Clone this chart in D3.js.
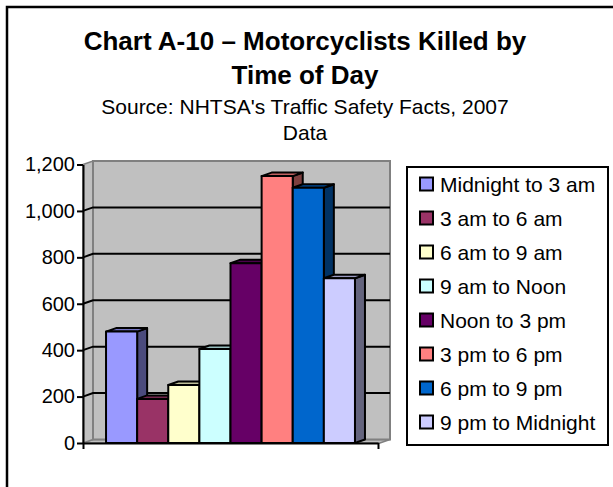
<!DOCTYPE html>
<html>
<head>
<meta charset="utf-8">
<script src="https://cdn.jsdelivr.net/npm/d3@7"></script>
<style>
  body { margin: 0; background: #fff; }
  text { font-family: "Liberation Sans", Arial, sans-serif; fill: #000; }
</style>
</head>
<body>
<div id="chart"></div>
<script>
// data
const seriesNames = ['Midnight to 3 am', '3 am to 6 am', '6 am to 9 am', '9 am to Noon',
    'Noon to 3 pm', '3 pm to 6 pm', '6 pm to 9 pm', '9 pm to Midnight'];
const killed = [480, 190, 250, 405, 775, 1150, 1100, 710];
const yTicks = [0, 200, 400, 600, 800, 1000, 1200];
const titleLines = ['Chart A-10 \u2013 Motorcyclists Killed by', 'Time of Day'];
const subtitleLines = ["Source: NHTSA's Traffic Safety Facts, 2007", 'Data'];

// excel-ish fills
const colors = ['#9999FF', '#993366', '#FFFFCC', '#CCFFFF', '#660066', '#FF8080', '#0066CC', '#CCCCFF'];

const svgwidth = 613;
const svgheight = 487;

// plot area (front plane) + 3d depth offset
const plot = { left: 83, right: 378, top: 164.5, bottom: 443 };
const depth = { dx: 10, dy: -3.5 };

const svg = d3.select('#chart').append('svg')
    .attr('width', svgwidth).attr('height', svgheight);

svg.append('rect')
    .attr('width', svgwidth).attr('height', svgheight)
    .attr('fill', '#fff');

// outer frame (runs off right and bottom)
svg.append('rect')
    .attr('x', 7).attr('y', 7)
    .attr('width', 640).attr('height', 520)
    .attr('fill', 'none').attr('stroke', '#000').attr('stroke-width', 2.5);

////////// titles //////////
const titleGroup = svg.append('g').attr('text-anchor', 'middle');
titleGroup.selectAll('.title').data(titleLines).enter()
    .append('text')
    .attr('class', 'title')
    .attr('x', 305)
    .attr('y', (d, i) => 50 + i * 34)
    .attr('font-size', 26)
    .attr('font-weight', 'bold')
    .text(d => d);
titleGroup.selectAll('.sub').data(subtitleLines).enter()
    .append('text')
    .attr('class', 'sub')
    .attr('x', 305)
    .attr('y', (d, i) => 114 + i * 26)
    .attr('font-size', 21)
    .text(d => d);

////////// scales //////////
const yScale = d3.scaleLinear()
    .domain([0, 1200])
    .range([plot.bottom, plot.top]);

const xScale = d3.scaleBand()
    .domain(seriesNames)
    .range([plot.left, plot.right])
    .paddingInner(0)
    .paddingOuter(0.74);

const xEnds = d3.scaleLinear().domain([0, 1]).range([plot.left, plot.right]);

////////// walls //////////
const wallGroup = svg.append('g');
const bx = plot.left + depth.dx;
const bxr = plot.right + depth.dx + 2;
const topY = yScale(1200) + depth.dy;
const floorY = plot.bottom + depth.dy;

// floor
wallGroup.append('polygon')
    .attr('points', [[plot.left, plot.bottom], [bx, floorY], [bxr, floorY], [plot.right + 2, plot.bottom]].join(' '))
    .attr('fill', '#c0c0c0').attr('stroke', '#808080').attr('stroke-width', 1.5);
// side wall
wallGroup.append('polygon')
    .attr('points', [[plot.left, yScale(1200)], [bx, topY], [bx, floorY], [plot.left, plot.bottom]].join(' '))
    .attr('fill', '#c0c0c0').attr('stroke', '#808080').attr('stroke-width', 1.5);
// back wall
wallGroup.append('rect')
    .attr('x', bx).attr('y', topY)
    .attr('width', bxr - bx).attr('height', floorY - topY)
    .attr('fill', '#c0c0c0').attr('stroke', '#808080').attr('stroke-width', 2);

// gridlines on back + side wall
const grid = wallGroup.selectAll('.grid').data(yTicks.filter(t => t > 0 && t < 1200)).enter()
    .append('polyline')
    .attr('class', 'grid')
    .attr('points', d => [[plot.left, yScale(d)], [bx, yScale(d) + depth.dy], [bxr, yScale(d) + depth.dy]].join(' '))
    .attr('fill', 'none').attr('stroke', '#000').attr('stroke-width', 2);

////////// bars //////////
const barData = seriesNames.map((name, i) => ({ name: name, value: killed[i], color: colors[i] }));

const bars = svg.selectAll('.bar').data(barData).enter()
    .append('g')
    .attr('class', 'bar')
    .attr('stroke', '#000')
    .attr('stroke-width', 2)
    .attr('stroke-linejoin', 'round');

const w = xScale.bandwidth();

// side face
bars.append('polygon')
    .attr('points', d => {
        const x1 = xScale(d.name) + w, y0 = yScale(d.value), yb = yScale(0);
        return [[x1, yb], [x1 + depth.dx, yb + depth.dy], [x1 + depth.dx, y0 + depth.dy], [x1, y0]].join(' ');
    })
    .attr('fill', d => d3.rgb(d.color).darker(2).formatHex());

// top face
bars.append('polygon')
    .attr('points', d => {
        const x0 = xScale(d.name), y0 = yScale(d.value);
        return [[x0, y0], [x0 + depth.dx, y0 + depth.dy], [x0 + w + depth.dx, y0 + depth.dy], [x0 + w, y0]].join(' ');
    })
    .attr('fill', d => d3.rgb(d.color).darker(0.8).formatHex());

// front face
bars.append('rect')
    .attr('x', d => xScale(d.name))
    .attr('y', d => yScale(d.value))
    .attr('width', w)
    .attr('height', d => yScale(0) - yScale(d.value))
    .attr('fill', d => d.color);

////////// axes //////////
const yAxis = d3.axisLeft(yScale)
    .tickValues(yTicks)
    .tickSize(6)
    .tickSizeOuter(0)
    .tickPadding(2)
    .tickFormat(d3.format(','));

const yAxisG = svg.append('g')
    .attr('transform', `translate(${plot.left},0)`)
    .call(yAxis);
yAxisG.selectAll('text').attr('font-size', 20).attr('font-family', '"Liberation Sans", Arial, sans-serif');
yAxisG.selectAll('line, path').attr('stroke', '#000').attr('stroke-width', 2);

const xAxis = d3.axisBottom(xEnds)
    .tickValues([0, 1])
    .tickSize(6)
    .tickSizeOuter(0)
    .tickFormat('');

const xAxisG = svg.append('g')
    .attr('transform', `translate(0,${plot.bottom})`)
    .call(xAxis);
xAxisG.selectAll('line, path').attr('stroke', '#000').attr('stroke-width', 2);

////////// legend //////////
const legend = svg.append('g');
legend.append('rect')
    .attr('x', 407).attr('y', 167)
    .attr('width', 201).attr('height', 278)
    .attr('fill', '#fff').attr('stroke', '#000').attr('stroke-width', 2);

const legendRows = legend.selectAll('.legrow').data(barData).enter()
    .append('g')
    .attr('class', 'legrow')
    .attr('transform', (d, i) => `translate(420,${184 + i * 34})`);

legendRows.append('rect')
    .attr('x', 0).attr('y', -6.5)
    .attr('width', 13).attr('height', 13)
    .attr('fill', d => d.color)
    .attr('stroke', '#000').attr('stroke-width', 2);

legendRows.append('text')
    .attr('x', 20)
    .attr('dy', '0.36em')
    .attr('font-size', 21)
    .text(d => d.name);
</script>
</body>
</html>
